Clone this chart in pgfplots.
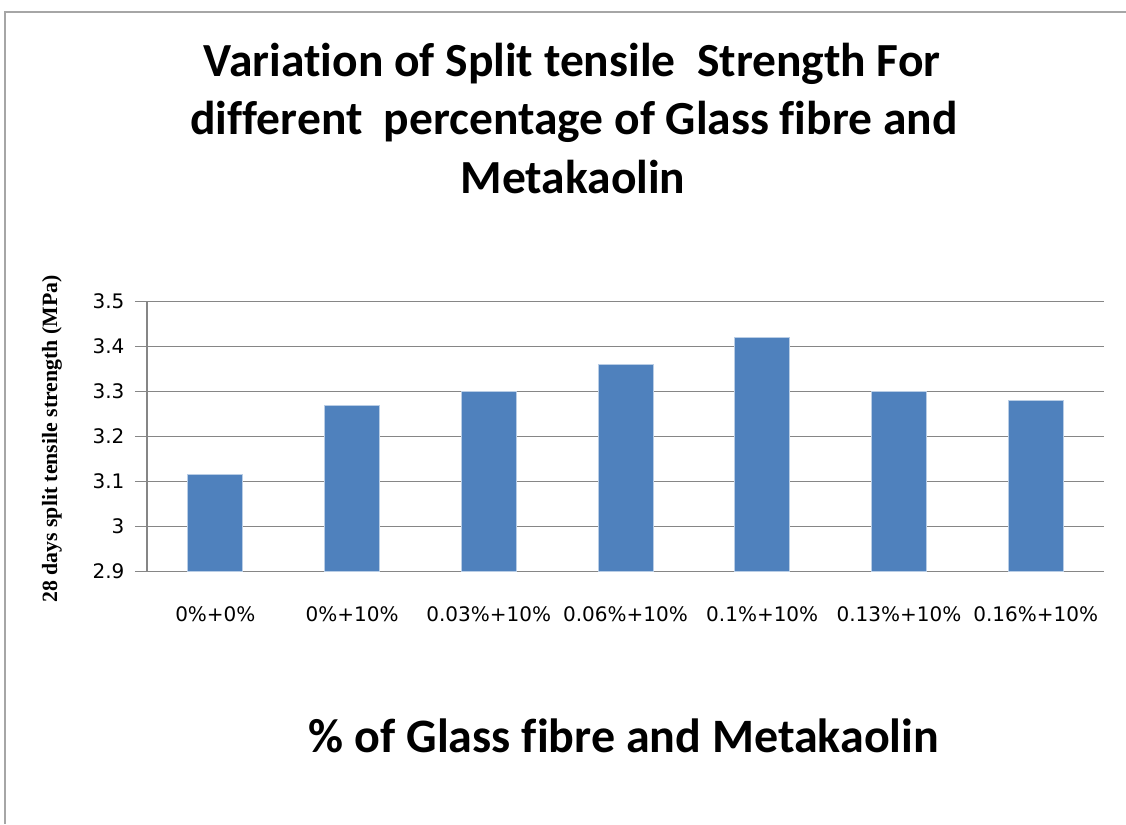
\documentclass[border=0pt]{standalone}
\usepackage{pgfplots}
\pgfplotsset{compat=1.18}
\usepackage{fontspec}
\setmainfont{DejaVu Sans}
\newfontfamily\titlefont[Ligatures=NoCommon]{Carlito}
\newfontfamily\ylabfont{Liberation Serif}
\definecolor{barblue}{HTML}{4F81BD}
\definecolor{baredge}{HTML}{B9CDE5}
\definecolor{gridgray}{HTML}{868686}
\definecolor{framegray}{HTML}{A6A6A6}

\begin{document}
\begin{tikzpicture}[x=1pt,y=1pt]
\useasboundingbox (0,0) rectangle (1126,-824);
\fill[white] (0,0) rectangle (1126,-824);
\draw[line width=2pt, color=framegray] (4.5,-824) -- (4.5,-12.5) -- (1126,-12.5);

\node[anchor=base, font=\titlefont\bfseries\fontsize{47.5}{57}\selectfont] at (572,-77) {Variation of Split tensile\ \ Strength For};
\node[anchor=base, font=\titlefont\bfseries\fontsize{47.5}{57}\selectfont] at (574,-135) {different\ \ percentage of Glass fibre and};
\node[anchor=base, font=\titlefont\bfseries\fontsize{47.5}{57}\selectfont] at (573,-193) {Metakaolin};

\node[anchor=base, font=\titlefont\bfseries\fontsize{48}{57}\selectfont] at (624,-752) {\% of Glass fibre and Metakaolin};

\node[rotate=90, font=\ylabfont\bfseries\fontsize{21.8}{25}\selectfont] at (52,-439) {28 days split tensile strength (MPa)};

\begin{axis}[
  at={(147pt,-571.5pt)}, anchor=south west,
  scale only axis, width=957pt, height=270pt,
  ymin=2.9, ymax=3.5,
  ytick={2.9,3.0,3.1,3.2,3.3,3.4,3.5},
  yticklabels={2.9,3,3.1,3.2,3.3,3.4,3.5},
  xmin=-0.5, xmax=6.5,
  xtick={0,1,2,3,4,5,6},
  xticklabels={0\%+0\%,0\%+10\%,0.03\%+10\%,0.06\%+10\%,0.1\%+10\%,0.13\%+10\%,0.16\%+10\%},
  axis x line*=bottom, axis y line*=left,
  axis line style={gridgray, line width=1.3pt, -},
  ymajorgrids, major grid style={gridgray, line width=1.3pt},
  tick align=outside, major tick length=12pt,
  ytick style={gridgray, line width=1.3pt},
  xtick style={draw=none},
  tick label style={font=\fontsize{20}{24}\selectfont, text=black},
  yticklabel style={xshift=-7pt},
  xticklabel style={yshift=-20pt},
  clip=false,
]
\addplot[ybar, bar width=55pt, fill=barblue, draw=baredge, line width=0.8pt]
  coordinates {(0,3.115) (1,3.27) (2,3.30) (3,3.36) (4,3.42) (5,3.30) (6,3.28)};
\end{axis}
\end{tikzpicture}
\end{document}
